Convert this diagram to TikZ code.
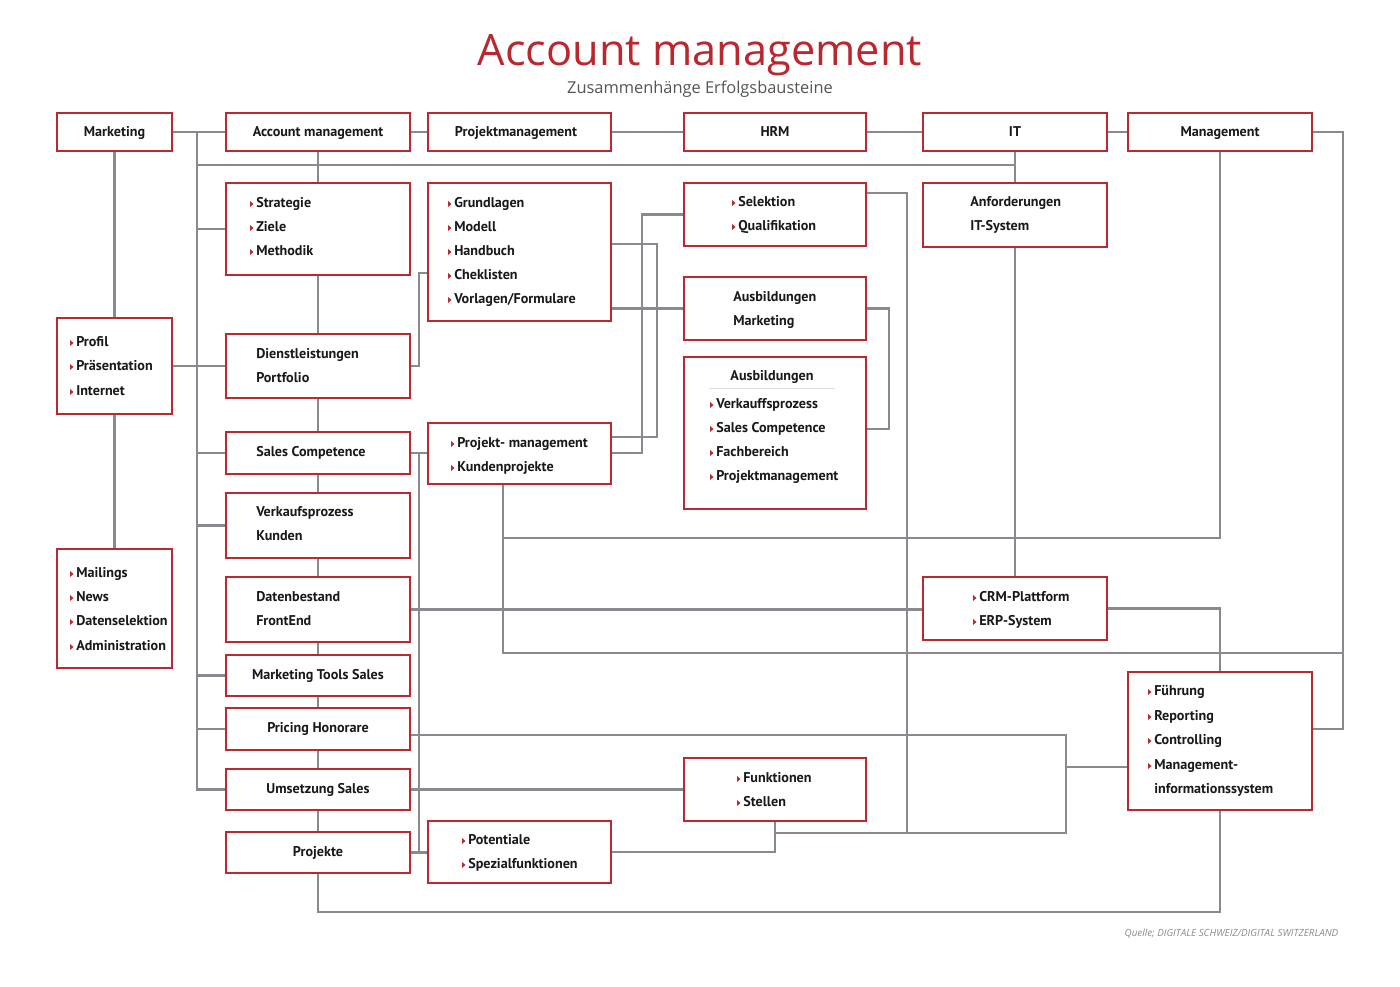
\documentclass[tikz,border=0pt]{standalone}
\usepackage{fontspec}
\setmainfont{PT Sans}
\newfontfamily\titlefont{Open Sans}
\usetikzlibrary{backgrounds}
\definecolor{boxred}{RGB}{186,40,48}
\definecolor{titred}{RGB}{184,40,46}
\definecolor{lngray}{RGB}{137,137,143}
\definecolor{subgray}{RGB}{85,85,85}
\definecolor{srcgray}{RGB}{140,140,140}
\definecolor{txtblack}{RGB}{25,25,25}
\definecolor{sepgray}{RGB}{220,220,220}
\tikzset{
  box/.style={draw=boxred, line width=2.2pt, fill=white, inner sep=0pt, outer sep=0pt},
  conn/.style={draw=lngray, line width=2.2pt},
  txt/.style={font=\bfseries\fontsize{10.6}{12}\selectfont, text=txtblack, inner sep=0pt},
}
\newcommand\bx[5]{\node[box, minimum width={(#4-#2)*0.75pt}, minimum height={(#5-#3)*0.75pt}] (#1) at ({(#2+#4)/2},{(#3+#5)/2}) {};}
\newcommand\bi[4]{\fill[boxred] (#2-6,#3-2) -- (#2-6,#3+4) -- (#2-2.5,#3+1) -- cycle; \node[txt,anchor=mid west] (#1) at (#2,#3+1) {#4};}
\newcommand\ti[4]{\node[txt,anchor=mid west] (#1) at (#2,#3+1) {#4};}
\newcommand\ct[4]{\node[txt,anchor=mid] (#1) at (#2,#3+1) {#4};}
\begin{document}
\begin{tikzpicture}[x=0.75pt,y=-0.75pt]
\useasboundingbox (0,0) rectangle (1400,987);
\begin{scope}[on background layer]
\fill[white] (0,0) rectangle (1400,987);
\end{scope}
% title
\node[font=\titlefont\fontsize{32.5}{36}\selectfont, text=titred, anchor=base] (title) at (700,66) {Account management};
\node[font=\titlefont\fontsize{12.3}{14}\selectfont, text=subgray, anchor=base] (sub) at (700,94) {Zusammenhänge Erfolgsbausteine};
\node[font=\titlefont\itshape\fontsize{7.4}{9}\selectfont, text=srcgray, anchor=base east] (src) at (1343,936) {Quelle; DIGITALE SCHWEIZ/DIGITAL SWITZERLAND};
% boxes
\bx{mkt}{57}{113}{172}{151}
\bx{am}{226}{113}{410}{151}
\bx{pm}{428}{113}{611}{151}
\bx{hrm}{684}{113}{866}{151}
\bx{it}{923}{113}{1107}{151}
\bx{mgmt}{1128}{113}{1312}{151}
\bx{profil}{57}{318}{172}{414}
\bx{mailings}{57}{549}{172}{668}
\bx{strat}{226}{183}{410}{275}
\bx{dienst}{226}{334}{410}{398}
\bx{sales}{226}{432}{410}{474}
\bx{verk}{226}{493}{410}{558}
\bx{daten}{226}{577}{410}{642}
\bx{mts}{226}{655}{410}{696}
\bx{pricing}{226}{708}{410}{750}
\bx{umsetz}{226}{769}{410}{810}
\bx{projekte}{226}{832}{410}{873}
\bx{grund}{428}{183}{611}{321}
\bx{pkm}{428}{423}{611}{484}
\bx{pot}{428}{821}{611}{883}
\bx{sel}{684}{183}{866}{246}
\bx{ausm}{684}{277}{866}{340}
\bx{ausl}{684}{357}{866}{509}
\bx{funk}{684}{758}{866}{821}
\bx{anf}{923}{183}{1107}{247}
\bx{crm}{923}{577}{1107}{640}
\bx{fuehr}{1128}{672}{1312}{810}
% texts
\ct{tmkt}{114.5}{132}{Marketing}
\ct{tam}{318}{132}{Account management}
\ct{tpm}{516}{132}{Projektmanagement}
\ct{thrm}{775}{132}{HRM}
\ct{tit}{1015}{132}{IT}
\ct{tmgmt}{1220}{132}{Management}
\bi{p1}{76}{342}{Profil}
\bi{p2}{76}{366}{Präsentation}
\bi{p3}{76}{391}{Internet}
\bi{m1}{76}{573}{Mailings}
\bi{m2}{76}{597}{News}
\bi{m3}{76}{621}{Datenselektion}
\bi{m4}{76}{646}{Administration}
\bi{s1}{256}{203}{Strategie}
\bi{s2}{256}{227}{Ziele}
\bi{s3}{256}{251}{Methodik}
\ti{d1}{256}{354}{Dienstleistungen}
\ti{d2}{256}{378}{Portfolio}
\ti{sc}{256}{452}{Sales Competence}
\ti{v1}{256}{512}{Verkaufsprozess}
\ti{v2}{256}{536}{Kunden}
\ti{db1}{256}{597}{Datenbestand}
\ti{db2}{256}{621}{FrontEnd}
\ct{tmts}{318}{675}{Marketing Tools Sales}
\ct{tpr}{318}{728}{Pricing Honorare}
\ct{tum}{318}{789}{Umsetzung Sales}
\ct{tpj}{318}{852}{Projekte}
\bi{g1}{454}{203}{Grundlagen}
\bi{g2}{454}{227}{Modell}
\bi{g3}{454}{251}{Handbuch}
\bi{g4}{454}{275}{Cheklisten}
\bi{g5}{454}{299}{Vorlagen/Formulare}
\bi{k1}{457}{443}{Projekt- management}
\bi{k2}{457}{467}{Kundenprojekte}
\bi{o1}{468}{840}{Potentiale}
\bi{o2}{468}{864}{Spezialfunktionen}
\bi{e1}{738}{202}{Selektion}
\bi{e2}{738}{226}{Qualifikation}
\ti{am1}{733}{297}{Ausbildungen}
\ti{am2}{733}{321}{Marketing}
\ct{al0}{772}{376}{Ausbildungen}
\draw[sepgray, line width=0.75pt] (709,389) -- (835,389);
\bi{al1}{716}{404}{Verkauffsprozess}
\bi{al2}{716}{428}{Sales Competence}
\bi{al3}{716}{452}{Fachbereich}
\bi{al4}{716}{476}{Projektmanagement}
\bi{f1}{743}{778}{Funktionen}
\bi{f2}{743}{802}{Stellen}
\ti{an1}{970}{202}{Anforderungen}
\ti{an2}{970}{226}{IT-System}
\bi{c1}{979}{597}{CRM-Plattform}
\bi{c2}{979}{621}{ERP-System}
\bi{h1}{1154}{691}{Führung}
\bi{h2}{1154}{716}{Reporting}
\bi{h3}{1154}{740}{Controlling}
\bi{h4}{1154}{765}{Management-}
\ti{h5}{1154}{789}{informationssystem}
% coordinates
\coordinate (rA) at (1343,132);
\coordinate (rB) at (1343,729);
\coordinate (tA) at (197,132);
\coordinate (tB) at (197,165);
\coordinate (uA) at (419,453);
\coordinate (uB) at (419,852.5);
\coordinate (dA) at (419,273);
\coordinate (gA) at (657,244);
\coordinate (gB) at (657,437);
\coordinate (kA) at (642,453);
\coordinate (aA) at (889,429);
\coordinate (sA) at (907,193);
\coordinate (sB) at (907,833);
\coordinate (pA) at (1066,735);
\coordinate (pB) at (1066,833);
\coordinate (fA) at (1066,767);
\coordinate (kB) at (503,538);
\coordinate (kC) at (503,653);
\coordinate (bA) at (318,912);
% connectors
\begin{scope}[on background layer]
\draw[conn] (mkt.east) -- (am.west);
\draw[conn] (am.east) -- (pm.west);
\draw[conn] (pm.east) -- (hrm.west);
\draw[conn] (hrm.east) -- (it.west);
\draw[conn] (it.east) -- (mgmt.west);
\draw[conn] (mgmt.east) -- (rA) -- (rB) -- (fuehr.east |- rB);
\draw[conn] (mkt.south) -- (profil.north);
\draw[conn] (profil.south) -- (mailings.north);
\draw[conn] (tA) -- (tA |- umsetz.west) -- (umsetz.west);
\draw[conn] (tA |- strat.west) -- (strat.west);
\draw[conn] (profil.east) -- (dienst.west);
\draw[conn] (tA |- sales.west) -- (sales.west);
\draw[conn] (tA |- verk.west) -- (verk.west);
\draw[conn] (tA |- mts.west) -- (mts.west);
\draw[conn] (tA |- pricing.west) -- (pricing.west);
\draw[conn] (tB) -- (it.south |- tB);
\draw[conn] (it.south) -- (anf.north);
\draw[conn] (anf.south) -- (crm.north);
\draw[conn] (am.south) -- (strat.north);
\draw[conn] (strat.south) -- (dienst.north);
\draw[conn] (dienst.south) -- (sales.north);
\draw[conn] (sales.south) -- (verk.north);
\draw[conn] (verk.south) -- (daten.north);
\draw[conn] (daten.south) -- (mts.north);
\draw[conn] (mts.south) -- (pricing.north);
\draw[conn] (pricing.south) -- (umsetz.north);
\draw[conn] (umsetz.south) -- (projekte.north);
\draw[conn] (sales.east) -- (pkm.west |- sales.east);
\draw[conn] (daten.east) -- (crm.west |- daten.east);
\draw[conn] (umsetz.east) -- (funk.west);
\draw[conn] (projekte.east) -- (pot.west |- projekte.east);
\draw[conn] (uA) -- (uB);
\draw[conn] (dienst.east) -| (dA) -- (grund.west |- dA);
\draw[conn] (grund.east |- gA) -- (gA) -- (gB) -- (pkm.east |- gB);
\draw[conn] (pkm.east |- kA) -- (kA) |- (sel.west);
\draw[conn] (grund.east |- ausm.west) -- (ausm.west);
\draw[conn] (ausm.east) -| (aA) -- (ausl.east |- aA);
\draw[conn] (sel.east |- sA) -- (sA) -- (sB);
\draw[conn] (pricing.east |- pA) -- (pA) -- (pB) -- (funk.south |- pB);
\draw[conn] (fuehr.west |- fA) -- (fA);
\draw[conn] (funk.south) |- (pot.east);
\draw[conn] (pkm.south -| kB) -- (kC) -- (rB |- kC);
\draw[conn] (mgmt.south) |- (kB);
\draw[conn] (crm.east) -| (fuehr.north);
\draw[conn] (projekte.south) -- (bA) -| (fuehr.south);
\end{scope}
\end{tikzpicture}
\end{document}
